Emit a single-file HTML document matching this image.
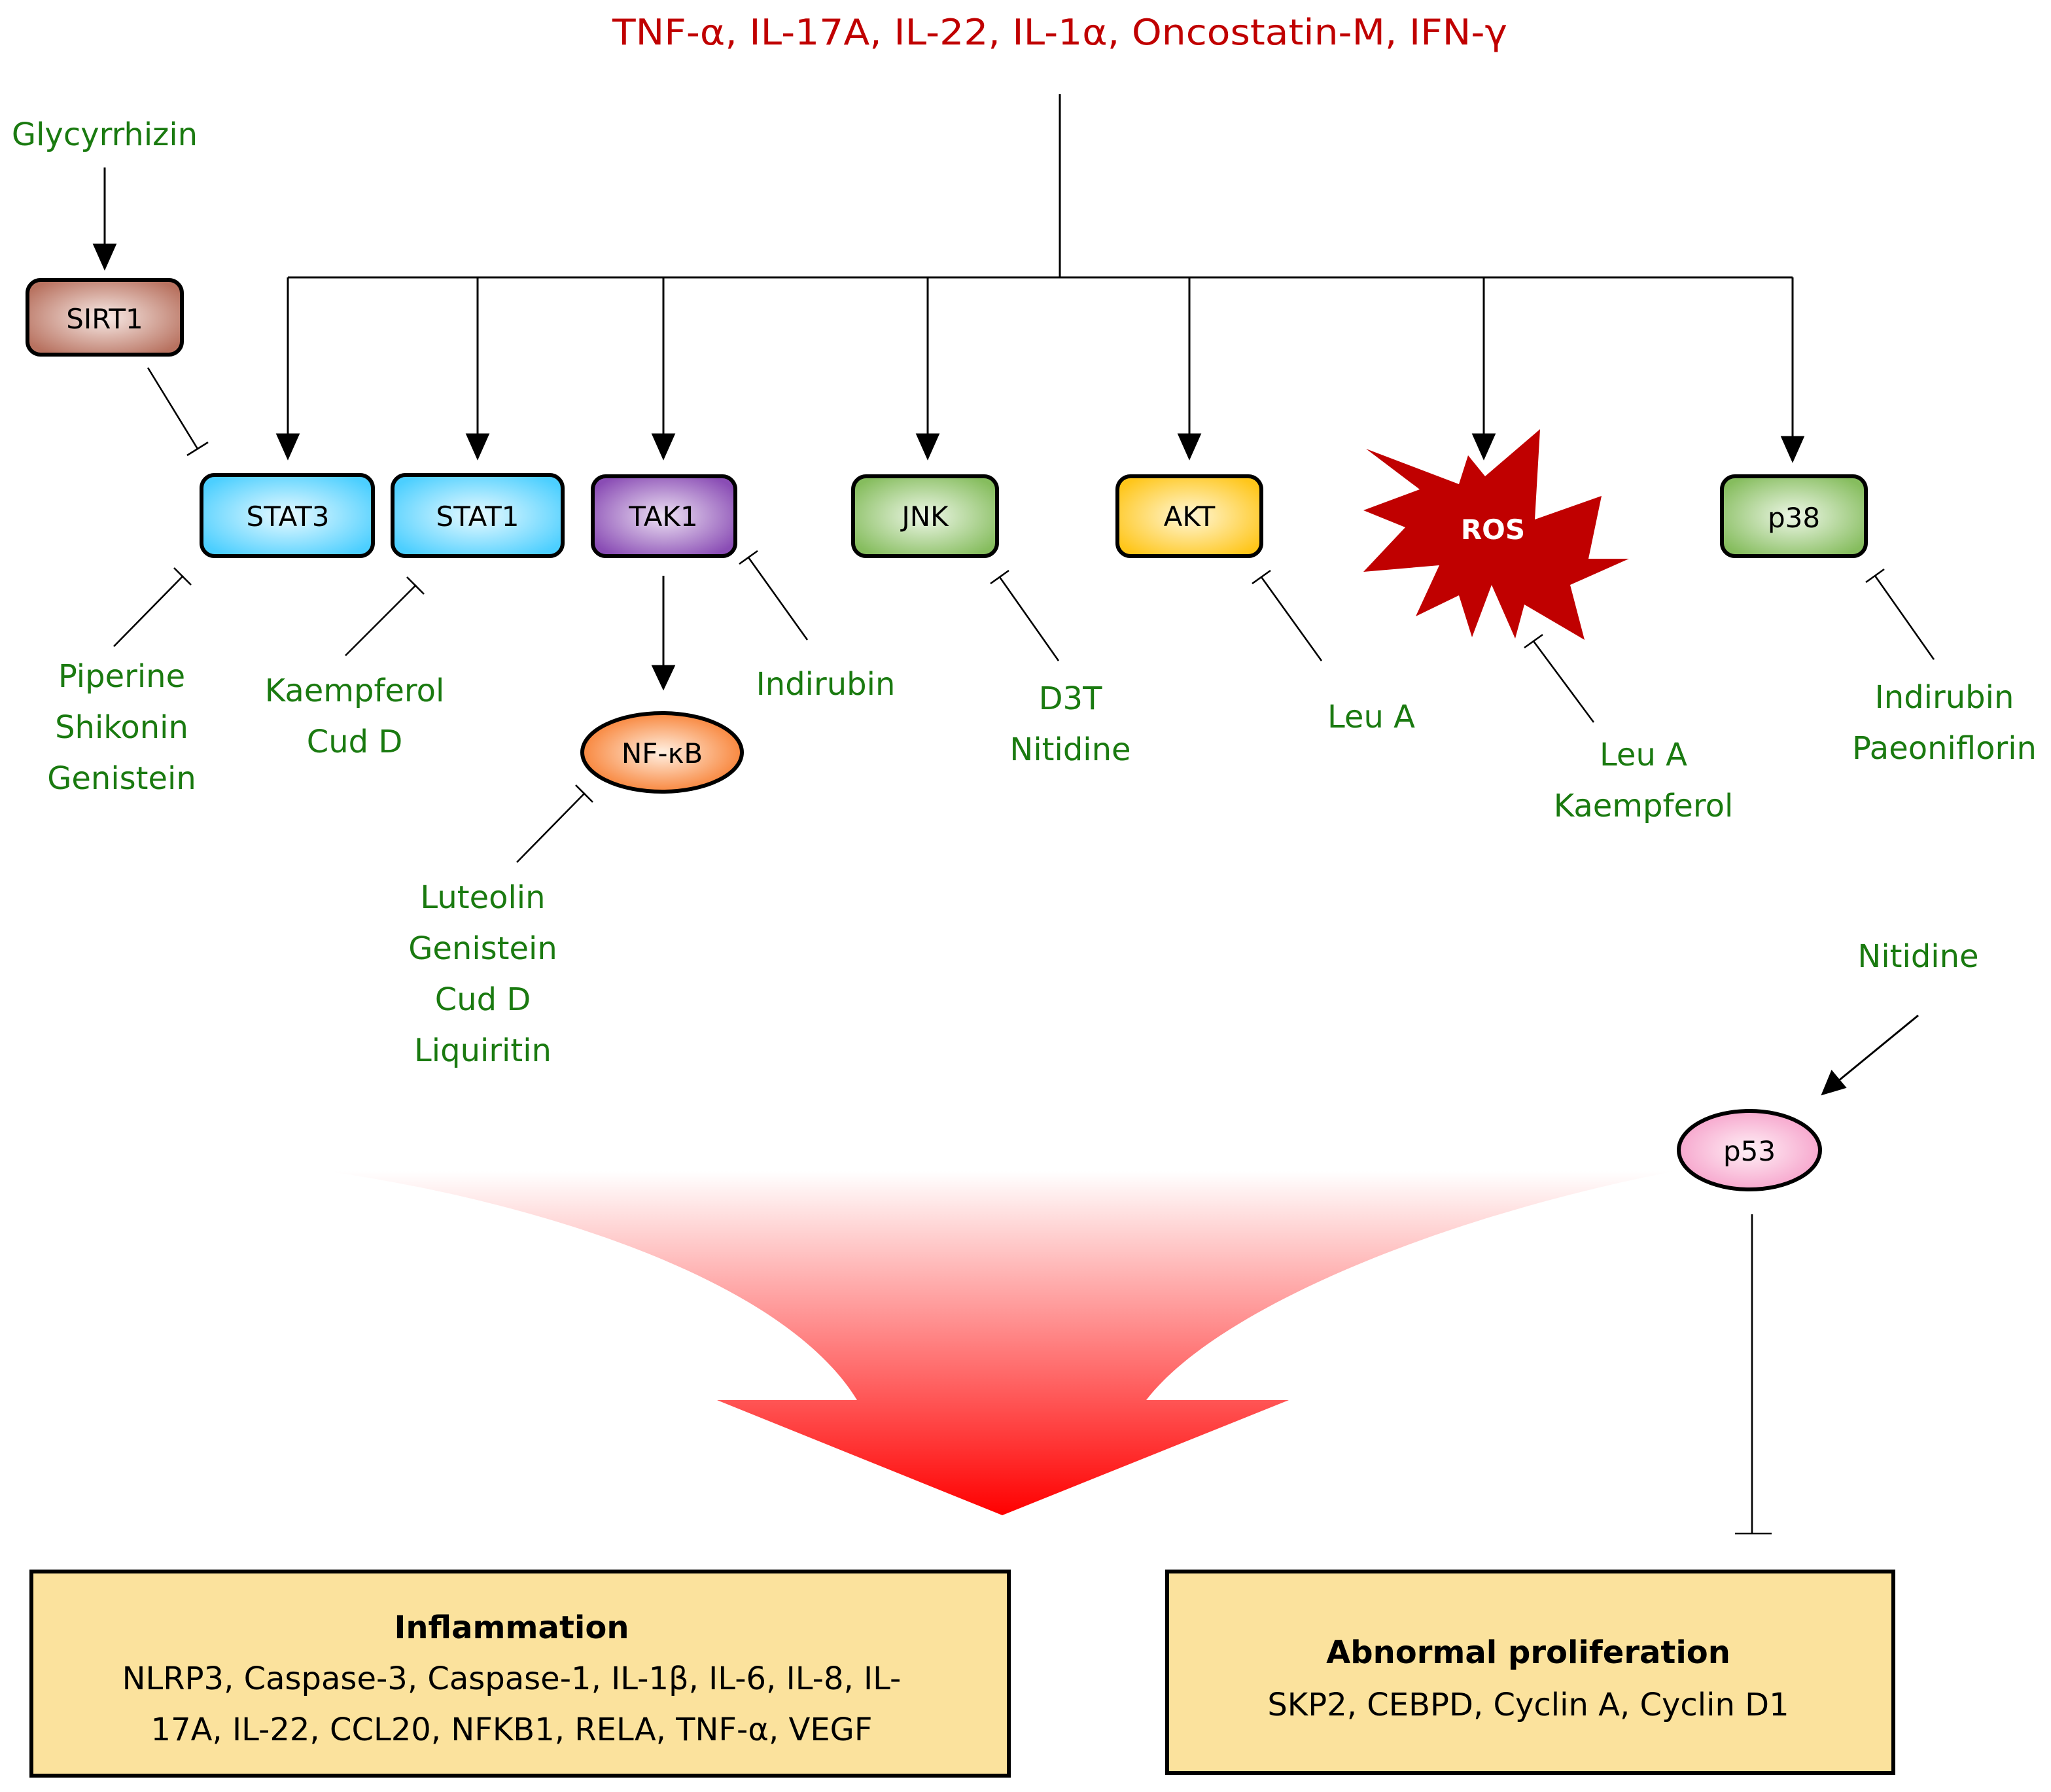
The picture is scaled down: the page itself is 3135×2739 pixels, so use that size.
<!DOCTYPE html>
<html><head><meta charset="utf-8"><style>html,body{margin:0;padding:0;background:#fff}svg{display:block}</style></head><body>
<svg width="3135" height="2739" viewBox="0 0 1567.5 1369.5" xmlns="http://www.w3.org/2000/svg" font-family="DejaVu Sans, Liberation Sans, sans-serif">
<defs>
<radialGradient id="gb" cx="50%" cy="50%" r="60%"><stop offset="0" stop-color="#eafaff"/><stop offset="1" stop-color="#4ccfff"/></radialGradient>
<radialGradient id="gp" cx="50%" cy="50%" r="60%"><stop offset="0" stop-color="#ede2f3"/><stop offset="1" stop-color="#8a4db5"/></radialGradient>
<radialGradient id="gg" cx="50%" cy="50%" r="60%"><stop offset="0" stop-color="#eef7e8"/><stop offset="1" stop-color="#86bd5e"/></radialGradient>
<radialGradient id="gy" cx="50%" cy="50%" r="60%"><stop offset="0" stop-color="#fff7d8"/><stop offset="1" stop-color="#ffc61a"/></radialGradient>
<radialGradient id="gs" cx="50%" cy="50%" r="60%"><stop offset="0" stop-color="#f8ebe7"/><stop offset="1" stop-color="#b87260"/></radialGradient>
<radialGradient id="go" cx="50%" cy="50%" r="60%"><stop offset="0" stop-color="#fff0e2"/><stop offset="1" stop-color="#f7731f"/></radialGradient>
<radialGradient id="gk" cx="50%" cy="50%" r="60%"><stop offset="0" stop-color="#fff0f6"/><stop offset="1" stop-color="#f59ac6"/></radialGradient>
<linearGradient id="gr" x1="0" y1="0" x2="0" y2="1"><stop offset="0" stop-color="#fff"/><stop offset="1" stop-color="#ff0000"/></linearGradient>
</defs>
<g fill="none" stroke="#000" stroke-width="1.5">
<line x1="810" y1="72" x2="810" y2="212"/>
<line x1="220" y1="212" x2="1370" y2="212"/>
</g>
<g stroke="#000" stroke-width="1.5" fill="#000">
<line x1="220" y1="212" x2="220" y2="333"/><path d="M212,332 L228,332 L220,350z"/>
<line x1="365" y1="212" x2="365" y2="333"/><path d="M357,332 L373,332 L365,350z"/>
<line x1="507" y1="212" x2="507" y2="333"/><path d="M499,332 L515,332 L507,350z"/>
<line x1="709" y1="212" x2="709" y2="333"/><path d="M701,332 L717,332 L709,350z"/>
<line x1="909" y1="212" x2="909" y2="333"/><path d="M901,332 L917,332 L909,350z"/>
<line x1="1134" y1="212" x2="1134" y2="333"/><path d="M1126,332 L1142,332 L1134,350z"/>
<line x1="1370" y1="212" x2="1370" y2="335"/><path d="M1362,334 L1378,334 L1370,352z"/>
<line x1="80" y1="128" x2="80" y2="188"/><path d="M72,187 L88,187 L80,205z"/>
<line x1="507" y1="440" x2="507" y2="510"/><path d="M499,509 L515,509 L507,526z"/>
<line x1="1466" y1="776" x2="1405" y2="826"/><path d="M1393,836 L1400,819 L1410,831z"/>
</g>
<g stroke="#000" stroke-width="1.3" fill="none">
<path d="M113,281 L151,343 M143,348 L159,338"/>
<path d="M87,494 L140,440 M133,434 L146,447"/>
<path d="M264,501 L318,447 M311,441 L324,454"/>
<path d="M617,489 L572,426 M565,431 L579,421"/>
<path d="M395,659 L447,606 M440,600 L453,613"/>
<path d="M809,505 L764,441 M757,446 L771,436"/>
<path d="M1010,505 L964,441 M957,446 L971,436"/>
<path d="M1218,552 L1172,490 M1165,495 L1179,485"/>
<path d="M1478,504 L1433,440 M1426,445 L1440,435"/>
<path d="M1339,928 L1339,1172 M1326,1172 L1354,1172"/>
</g>
<path d="M250,895 C420,920 600,980 655,1070 L548,1070 L766,1158 L985,1070 L876,1070 C930,1000 1100,930 1280,895 Z" fill="url(#gr)"/>
<g stroke="#000" stroke-width="3">
<rect x="21" y="214" width="118" height="57" rx="10" fill="url(#gs)"/>
<rect x="154" y="363" width="131" height="62" rx="10" fill="url(#gb)"/>
<rect x="300" y="363" width="130" height="62" rx="10" fill="url(#gb)"/>
<rect x="453" y="364" width="109" height="61" rx="10" fill="url(#gp)"/>
<rect x="652" y="364" width="110" height="61" rx="10" fill="url(#gg)"/>
<rect x="854" y="364" width="110" height="61" rx="10" fill="url(#gy)"/>
<rect x="1316" y="364" width="110" height="61" rx="10" fill="url(#gg)"/>
<ellipse cx="506" cy="575" rx="61" ry="30" fill="url(#go)"/>
<ellipse cx="1337" cy="879" rx="54" ry="30" fill="url(#gk)"/>
</g>
<path d="M1122,348 L1135,364 L1177,328 L1173,397 L1224,379 L1214,427 L1245,427 L1200,447 L1211,489 L1165,462 L1158,488 L1140,447 L1125,487 L1115,455 L1082,471 L1100,432 L1042,437 L1074,403 L1042,390 L1085,374 L1044,343 L1115,370 Z" fill="#c00000"/>
<g font-size="21" text-anchor="middle" fill="#000">
<text x="80" y="251">SIRT1</text>
<text x="220" y="402">STAT3</text>
<text x="365" y="402">STAT1</text>
<text x="507" y="402">TAK1</text>
<text x="707" y="402">JNK</text>
<text x="909" y="402">AKT</text>
<text x="1371" y="403">p38</text>
<text x="506" y="583">NF-κB</text>
<text x="1337" y="887">p53</text>
<text x="1141" y="412" fill="#fff" font-weight="bold">ROS</text>
</g>
<text x="810" y="34" font-size="27" fill="#c00000" text-anchor="middle" textLength="684" lengthAdjust="spacingAndGlyphs">TNF-α, IL-17A, IL-22, IL-1α, Oncostatin-M, IFN-γ</text>
<g font-size="24" fill="#1a7a10" text-anchor="middle">
<text x="80" y="111">Glycyrrhizin</text>
<text x="93" y="525">Piperine</text><text x="93" y="564">Shikonin</text><text x="93" y="603">Genistein</text>
<text x="271" y="536">Kaempferol</text><text x="271" y="575">Cud D</text>
<text x="631" y="531">Indirubin</text>
<text x="369" y="694">Luteolin</text><text x="369" y="733">Genistein</text><text x="369" y="772">Cud D</text><text x="369" y="811">Liquiritin</text>
<text x="818" y="542">D3T</text><text x="818" y="581">Nitidine</text>
<text x="1048" y="556">Leu A</text>
<text x="1256" y="585">Leu A</text><text x="1256" y="624">Kaempferol</text>
<text x="1486" y="541">Indirubin</text><text x="1486" y="580">Paeoniflorin</text>
<text x="1466" y="739">Nitidine</text>
</g>
<g stroke="#000" stroke-width="3" fill="#fbe29d">
<rect x="24" y="1201" width="747" height="156"/>
<rect x="892" y="1201" width="555" height="154"/>
</g>
<g font-size="24" text-anchor="middle" fill="#000">
<text x="391" y="1252" font-weight="bold">Inflammation</text>
<text x="391" y="1291">NLRP3, Caspase-3, Caspase-1, IL-1β, IL-6, IL-8, IL-</text>
<text x="391" y="1330">17A, IL-22, CCL20, NFKB1, RELA, TNF-α, VEGF</text>
<text x="1168" y="1271" font-weight="bold">Abnormal proliferation</text>
<text x="1168" y="1311">SKP2, CEBPD, Cyclin A, Cyclin D1</text>
</g>
</svg>
</body></html>
